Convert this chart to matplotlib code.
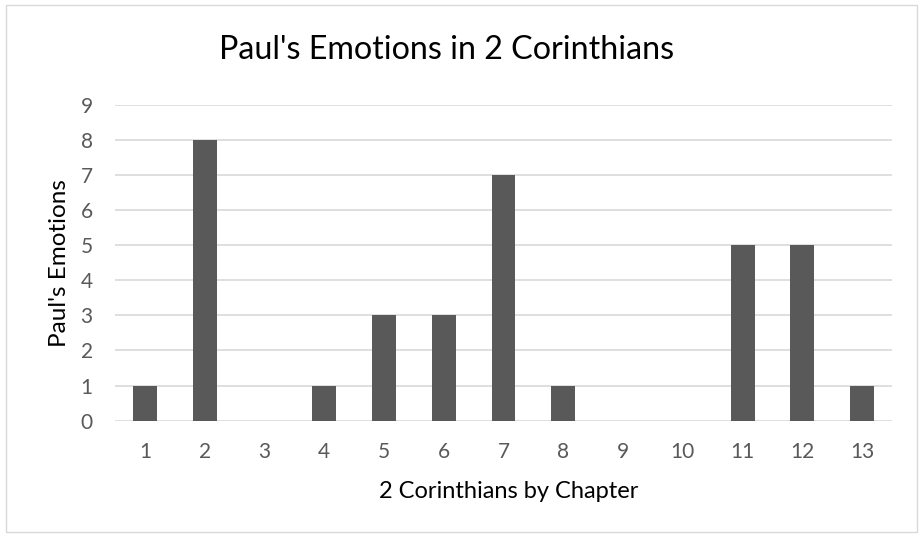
import matplotlib
matplotlib.use('Agg')
import matplotlib.pyplot as plt
from matplotlib.patches import Rectangle

chapters = ['1', '2', '3', '4', '5', '6', '7', '8', '9', '10', '11', '12', '13']
emotions = [1, 8, 0, 1, 3, 3, 7, 1, 0, 0, 5, 5, 1]
y_ticks = [0, 1, 2, 3, 4, 5, 6, 7, 8, 9]

plt.rcParams['font.family'] = ['Lato', 'DejaVu Sans']

fig = plt.figure(figsize=(9.21, 5.37), dpi=100)
fig.patches.append(Rectangle((6 / 921, 1 - 532 / 537), 911 / 921, 527 / 537,
                             transform=fig.transFigure, fill=False,
                             edgecolor='#d9d9d9', linewidth=1))

ax = fig.add_axes([115 / 921, 1 - 420.7 / 537, 777 / 921, 316 / 537])
x = range(len(chapters))
ax.bar(x, emotions, width=0.4, color='#595959', zorder=3)
ax.set_xlim(-0.5, len(chapters) - 0.5)
ax.set_ylim(0, 9)
ax.set_yticks(y_ticks)
ax.set_xticks(list(x))
ax.set_xticklabels(chapters)
ax.grid(axis='y', color='#d9d9d9', linewidth=1.2, zorder=0)
for s in ax.spines.values():
    s.set_visible(False)
ax.tick_params(length=0, colors='#595959', labelsize=15)
ax.tick_params(axis='x', pad=15)
ax.tick_params(axis='y', pad=16)

ax.set_xlabel('2 Corinthians by Chapter', fontsize=17, color='black')
ax.xaxis.set_label_coords(0.507, -71 / 316, transform=ax.transAxes)
ax.xaxis.label.set_va('center')
ax.set_ylabel("Paul's Emotions", fontsize=17.5, color='black')
ax.yaxis.set_label_coords(-56 / 777, 0.5, transform=ax.transAxes)
ax.yaxis.label.set_va('center')
fig.text(447 / 921, 1 - 50 / 537, "Paul's Emotions in 2 Corinthians", ha='center', va='center',
         fontsize=23.2, color='black')

fig.savefig('out.png', dpi=100)
